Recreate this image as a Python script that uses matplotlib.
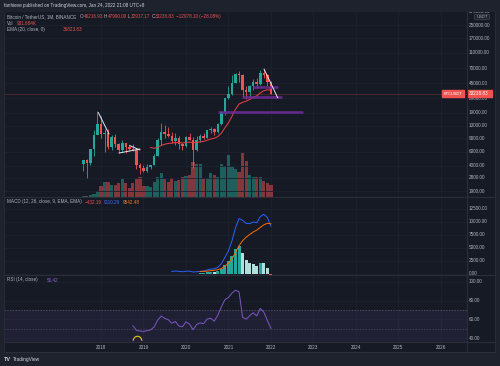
import math
import matplotlib
matplotlib.use('Agg')
import matplotlib.pyplot as plt
from matplotlib.patches import Rectangle, Arc, FancyBboxPatch

plt.rcParams['font.family'] = ['Liberation Sans', 'DejaVu Sans']

# ---------------- data (monthly BTCUSDT, Aug 2017 .. Jan 2022) ----------------
months = ['2017-08', '2017-09', '2017-10', '2017-11', '2017-12',
          '2018-01', '2018-02', '2018-03', '2018-04', '2018-05', '2018-06',
          '2018-07', '2018-08', '2018-09', '2018-10', '2018-11', '2018-12',
          '2019-01', '2019-02', '2019-03', '2019-04', '2019-05', '2019-06',
          '2019-07', '2019-08', '2019-09', '2019-10', '2019-11', '2019-12',
          '2020-01', '2020-02', '2020-03', '2020-04', '2020-05', '2020-06',
          '2020-07', '2020-08', '2020-09', '2020-10', '2020-11', '2020-12',
          '2021-01', '2021-02', '2021-03', '2021-04', '2021-05', '2021-06',
          '2021-07', '2021-08', '2021-09', '2021-10', '2021-11', '2021-12',
          '2022-01']
opens = [4261, 4689, 4378, 6463, 9838, 13716, 10285, 10326, 6923, 9246, 7494,
         6391, 7730, 7011, 6626, 6370, 4041, 3701, 3434, 3814, 4102, 5320, 8555,
         10854, 10080, 9588, 8289, 9140, 7540, 7195, 9351, 8599, 6412, 8620, 9448,
         9145, 11322, 11649, 10776, 13791, 19695, 28923, 33092, 45134, 58739, 57697,
         37254, 35045, 41461, 47100, 43820, 61300, 56950, 46216.93]
highs = [4745, 4939, 6447, 11300, 19798, 17176, 11786, 11710, 9759, 10020, 7765,
         8491, 7780, 7410, 7680, 6586, 4313, 4140, 4210, 4120, 5600, 9074, 13970,
         13147, 12325, 10905, 10370, 9513, 7750, 9578, 10500, 9188, 9468, 10067, 10380,
         11444, 12468, 12050, 14100, 19863, 29300, 41950, 58352, 61844, 64854, 59500,
         41330, 42448, 50500, 52920, 67000, 69000, 59053, 47990.00]
lows = [3400, 2817, 4110, 5325, 10750, 9035, 6000, 6600, 6430, 7032, 5755,
        6070, 5880, 6100, 6205, 3652, 3156, 3349, 3373, 3670, 4067, 5350, 7444,
        9010, 9320, 7710, 7300, 6515, 6435, 6871, 8450, 3782, 6150, 8117, 8833,
        8977, 10518, 9825, 10374, 13195, 17572, 28130, 32296, 45000, 47044, 30000,
        28805, 29278, 37332, 39600, 43283, 53256, 42000, 32917.17]
closes = [4724, 4378, 6463, 9838, 13716, 10285, 10326, 6923, 9246, 7494, 6391,
          7730, 7011, 6626, 6371, 4041, 3702, 3434, 3813, 4103, 5320, 8555, 10854,
          10085, 9590, 8289, 9140, 7540, 7195, 9352, 8600, 6410, 8620, 9448, 9138,
          11335, 11649, 10776, 13791, 19695, 28923, 33092, 45135, 58740, 57694, 37253,
          35045, 41461, 47100, 43824, 61299, 56950, 46216, 33238.83]
volumes_k = [25, 55, 80, 160, 400, 800, 1150, 1150, 900, 900, 1050,
             1370, 1060, 650, 1030, 1340, 1500, 850, 850, 720, 1110, 1550, 1800,
             1370, 1110, 1420, 1240, 1300, 1500, 1630, 1700, 2700, 2500, 2540, 1420,
             1420, 1810, 1680, 1500, 2540, 2400, 3260, 2400, 2150, 1890, 3360,
             2740, 1680, 1550, 1500, 1500, 1240, 1060, 931.684]
ema20_start = 19
ema20 = [6831, 6687, 6865, 7245, 7515, 7713, 7768, 7898, 7864, 7801, 7948,
         8011, 7858, 7931, 8075, 8176, 8477, 8779, 8970, 9429, 10406, 12170,
         14163, 17112, 21077, 24564, 25773, 26656, 28066, 29879, 31207, 34073,
         36252, 37201, 36823.83]
macd_start = 25
macd_line = [391, 479, 415, 333, 436, 453, 286, 328, 423, 468, 673, 851, 912,
             1189, 1863, 3106, 4377, 6283, 8789, 10570, 10214, 9644, 9598, 9903,
             9767, 10943, 11393, 10760, 9110.29]
signal_start = 33
signal_line = [394, 408, 461, 539, 614, 729, 956, 1386, 1984, 2844, 4033, 5340,
               6315, 6981, 7504, 7984, 8341, 8861, 9368, 9646, 9542.48]
hist_vals = [29, 60, 212, 312, 298, 460, 908, 1720, 2393, 3439, 4756, 5229,
             3899, 2663, 2094, 1919, 1427, 2082, 2026, 1114, -432.19]
rsi_start = 14
rsi_vals = [53.4, 48.4, 47.7, 47.1, 48.1, 48.8, 52.0, 59.3, 63.5, 61.2, 59.7,
            55.9, 57.8, 53.1, 52.1, 57.4, 55.1, 49.0, 54.5, 56.4, 55.5, 60.5,
            61.1, 58.2, 64.5, 73.2, 80.9, 83.3, 87.9, 91.0, 89.1, 62.3, 60.2,
            64.0, 67.0, 63.7, 71.7, 67.7, 58.9, 50.42]
year_labels = ['2018', '2019', '2020', '2021', '2022', '2023', '2024', '2025', '2026']
price_ticks = [250000, 170000, 110000, 70000, 45000, 29000, 19000, 13000,
               9000, 6000, 4000, 2800, 1900]
macd_ticks = [12500, 10000, 7500, 5000, 2500, 0]
rsi_ticks = [100, 80, 60, 40]

# ---------------- style ----------------
FRAME = '#1e222d'
BG = '#161a25'
GRID = '#1d2130'
SEP = '#2a2e39'
TXT = '#b2b5be'
UP = '#26a69a'
DN = '#ef5350'
VUP = '#1e5f5d'
VDN = '#83373b'
FS = 3.3

W, H = 500, 366
fig = plt.figure(figsize=(5, 3.66), dpi=100)
fig.patch.set_facecolor(FRAME)

def ax_px(x0, y0, x1, y1, **kw):
    return fig.add_axes([x0 / W, 1 - y1 / H, (x1 - x0) / W, (y1 - y0) / H], **kw)

XL, XR = 3.5, 466.7
X0PX, DXPX = 83.3, 3.54
xlim = ((XL - X0PX) / DXPX, (XR - X0PX) / DXPX)
n = len(closes)
idx = list(range(n))
year_idx = [5 + 12 * k for k in range(len(year_labels))]

Y_MAIN = (12, 196.5)
Y_MACD = (196.5, 274.5)
Y_RSI = (274.5, 342)
Y_TIME = (342, 352)

def clean(ax):
    ax.set_facecolor(BG)
    for s in ax.spines.values():
        s.set_visible(False)
    ax.tick_params(left=False, bottom=False, labelleft=False, labelbottom=False)
    ax.set_xlim(*xlim)

bgax = ax_px(XL, 12, 495, 352)
bgax.set_facecolor(BG)
bgax.set_xticks([]); bgax.set_yticks([])
for s in bgax.spines.values():
    s.set_visible(False)

# ---------- main pane ----------
vax = ax_px(XL, Y_MAIN[0], XR, Y_MAIN[1])
clean(vax)
vol_top = 931.684 * 184.5 / 12.0
vax.set_ylim(0, vol_top)
for yi in year_idx:
    vax.axvline(yi, color=GRID, lw=0.6, zorder=0)
for i in idx:
    up = closes[i] >= opens[i]
    vax.bar(i, volumes_k[i], width=0.9, color=VUP if up else VDN, zorder=2)

ax = ax_px(XL, Y_MAIN[0], XR, Y_MAIN[1])
clean(ax)
ax.set_facecolor('none')
ax.set_yscale('log')
ax.set_ylim(10 ** 3.2088, 10 ** 5.5651)
ax.minorticks_off()
for p in price_ticks:
    ax.axhline(p, color=GRID, lw=0.6, zorder=0)
for i in idx:
    up = closes[i] >= opens[i]
    c = UP if up else DN
    ax.vlines(i, lows[i], highs[i], color=c, lw=0.6, zorder=3)
    lo, hi = min(opens[i], closes[i]), max(opens[i], closes[i])
    ax.bar(i, hi - lo, bottom=lo, width=0.72, color=c, zorder=4)
ax.plot(range(ema20_start, ema20_start + len(ema20)), ema20, color='#e5403f', lw=0.75, zorder=5)
ax.axhline(closes[-1], color=DN, lw=0.5, alpha=0.35, zorder=2)

def px_to_i(x):
    return (x - X0PX) / DXPX

def py_to_price(y):
    return 10 ** (3.2788 + (191 - y) / 78.3)

def seg(x0, y0, x1, y1, **kw):
    ax.plot([px_to_i(x0), px_to_i(x1)], [py_to_price(y0), py_to_price(y1)], **kw)

wl = dict(color='#e6e8ee', lw=0.7, zorder=6, solid_capstyle='round')
seg(98.3, 112.5, 109.0, 134.0, **wl)
seg(119.0, 153.0, 140.0, 149.0, **wl)
seg(129.5, 145.5, 140.0, 150.0, **wl)
seg(264.0, 69.0, 277.7, 97.7, **wl)
pl = dict(color='#6e2c9c', lw=1.9, alpha=0.85, zorder=5, solid_capstyle='butt')
seg(218.3, 111.7, 302.7, 111.7, **pl)
seg(242.3, 97.3, 281.7, 97.3, **pl)
seg(253.0, 86.7, 278.0, 86.7, **pl)

# ---------- MACD pane ----------
mx = ax_px(XL, Y_MACD[0], XR, Y_MACD[1])
clean(mx)
mtop = (273.5 - Y_MACD[0]) / 13 * 2500
mbot = (273.5 - Y_MACD[1]) / 13 * 2500
mx.set_ylim(mbot, mtop)
for tk in macd_ticks:
    mx.axhline(tk, color=GRID, lw=0.6, zorder=0)
for yi in year_idx:
    mx.axvline(yi, color=GRID, lw=0.6, zorder=0)
for k, v in enumerate(hist_vals):
    i = signal_start + k
    prev = hist_vals[k - 1] if k > 0 else 0
    if v >= 0:
        c = '#26a69a' if v >= prev else '#b2dfdb'
    else:
        c = '#ff5252' if v < prev else '#ffcdd2'
    mx.bar(i, v, width=0.85, color=c, zorder=2)
mx.plot(range(macd_start, macd_start + len(macd_line)), macd_line, color='#2962ff', lw=0.7, zorder=3)
mx.plot(range(signal_start, signal_start + len(signal_line)), signal_line, color='#ff6d00', lw=0.7, zorder=3)

# ---------- RSI pane ----------
rx = ax_px(XL, Y_RSI[0], XR, Y_RSI[1])
clean(rx)
rtop = 100 - (Y_RSI[0] - 281.7) / 0.943
rbot = 100 - (Y_RSI[1] - 281.7) / 0.943
rx.set_ylim(rbot, rtop)
for yi in year_idx:
    rx.axvline(yi, color=GRID, lw=0.6, zorder=0)
for tk in rsi_ticks:
    rx.axhline(tk, color=GRID, lw=0.6, zorder=0)
rx.axhspan(30, 70, color='#7e57c2', alpha=0.1, lw=0, zorder=1)
rx.axhline(70, color='#787b86', lw=0.5, ls=(0, (2, 2)), alpha=0.7, zorder=2)
rx.axhline(50, color='#787b86', lw=0.5, ls=(0, (2, 2)), alpha=0.5, zorder=2)
rx.plot(range(rsi_start, rsi_start + len(rsi_vals)), rsi_vals, color='#7e57c2', lw=0.7, zorder=3)

# ---------- time axis ----------
tx = ax_px(XL, Y_TIME[0], XR, Y_TIME[1])
clean(tx)
tx.set_ylim(0, 1)
for yi, lab_ in zip(year_idx, year_labels):
    tx.text(yi, 0.45, lab_, color=TXT, fontsize=FS, ha='center', va='center')

# ---------- price scales ----------
def scale_ax(y0, y1):
    a = ax_px(XR, y0, 495, y1)
    a.set_facecolor(BG)
    a.set_xlim(XR, 495)
    a.set_ylim(y1, y0)
    a.axis('off')
    a.add_patch(Rectangle((XR, y0), 495 - XR, y1 - y0, color=BG, zorder=0))
    return a

def lab(a, y, s, color=TXT):
    a.text(469, y, s, color=color, fontsize=FS, ha='left', va='center', clip_on=True, zorder=2)

pm = scale_ax(*Y_MAIN)
for p in [370000] + price_ticks:
    y = 191 - (math.log10(p) - 3.2788) * 78.3
    lab(pm, y, f'{p:.2f}')
pm.add_patch(FancyBboxPatch((474.5, 14.3), 15, 5.2, boxstyle='round,pad=0,rounding_size=1',
                            fc='#1e222d', ec='#50535e', lw=0.4, zorder=3))
pm.text(482, 16.9, 'USDT', color=TXT, fontsize=3.0, ha='center', va='center', zorder=4)
ylast = 191 - (math.log10(closes[-1]) - 3.2788) * 78.3
pm.add_patch(Rectangle((467.2, ylast - 3.4), 25, 6.8, color='#ef5350', zorder=5))
pm.text(469, ylast, f'{closes[-1]:.2f}', color='white', fontsize=FS, ha='left', va='center', zorder=6)

pmac = scale_ax(*Y_MACD)
for tk in macd_ticks:
    lab(pmac, 273.5 - tk / 2500 * 13, f'{tk:.2f}')
prs = scale_ax(*Y_RSI)
for tk in rsi_ticks:
    lab(prs, 281.7 + (100 - tk) * 0.943, f'{tk:.2f}')

# ---------- overlay ----------
ov = fig.add_axes([0, 0, 1, 1])
ov.set_xlim(0, W); ov.set_ylim(H, 0); ov.axis('off')
for yy in (Y_MACD[0], Y_RSI[0], Y_TIME[0], Y_TIME[1]):
    ov.plot([XL, 495], [yy, yy], color=SEP, lw=0.8)
ov.plot([XR, XR], [12, 352], color=SEP, lw=0.8)
ov.plot([XL, XL], [12, 352], color=SEP, lw=0.6)
ov.plot([495, 495], [12, 352], color=SEP, lw=0.6)

ov.add_patch(Rectangle((442, ylast - 3.4), 21.5, 6.8, color='#ef5350', zorder=5))
ov.text(452.7, ylast, 'BTCUSDT', color='white', fontsize=2.9, ha='center', va='center', zorder=6)

ov.add_patch(Arc((137.5, 340.8), 8.5, 9.0, theta1=180, theta2=360, color='#e6c619', lw=0.8))

def t(x, y, s, c, fs=FS, **kw):
    ov.text(x, y, s, color=c, fontsize=fs, ha='left', va='center', **kw)

red = '#f0524f'
t(4, 6, 'fanhieve published on TradingView.com, Jan 24, 2022 21:08 UTC+8', '#d1d4dc')
t(7, 16.7, 'Bitcoin / TetherUS, 1M, BINANCE', TXT)
t(80, 16.7, 'O', TXT); t(83.5, 16.7, '46216.93', red)
t(104, 16.7, 'H', TXT); t(107.5, 16.7, '47990.00', red)
t(128, 16.7, 'L', TXT); t(131, 16.7, '32917.17', red)
t(151.5, 16.7, 'C', TXT); t(155, 16.7, '33238.83', red)
t(176, 16.7, '\u221212978.10 (\u221228.08%)', red)
t(7, 23.3, 'Vol', TXT); t(16.7, 23.3, '931.684K', red)
t(7, 29.7, 'EMA (20, close, 0)', TXT); t(63, 29.7, '36823.83', red)
t(7, 202, 'MACD (12, 26, close, 9, EMA, EMA)', TXT)
t(84.5, 202, '\u2212432.19', red)
t(104, 202, '9110.29', '#3d6bff')
t(123, 202, '9542.48', '#ff7a1a')
t(7, 280, 'RSI (14, close)', TXT)
t(47, 280, '50.42', '#8c66d0')

ov.text(4, 359.5, 'TV', color='#d1d4dc', fontsize=4.0, fontweight='bold', ha='left', va='center')
ov.text(12.5, 359.5, 'TradingView', color='#d1d4dc', fontsize=3.5, ha='left', va='center')

fig.savefig('out.png', dpi=100, facecolor=FRAME)
